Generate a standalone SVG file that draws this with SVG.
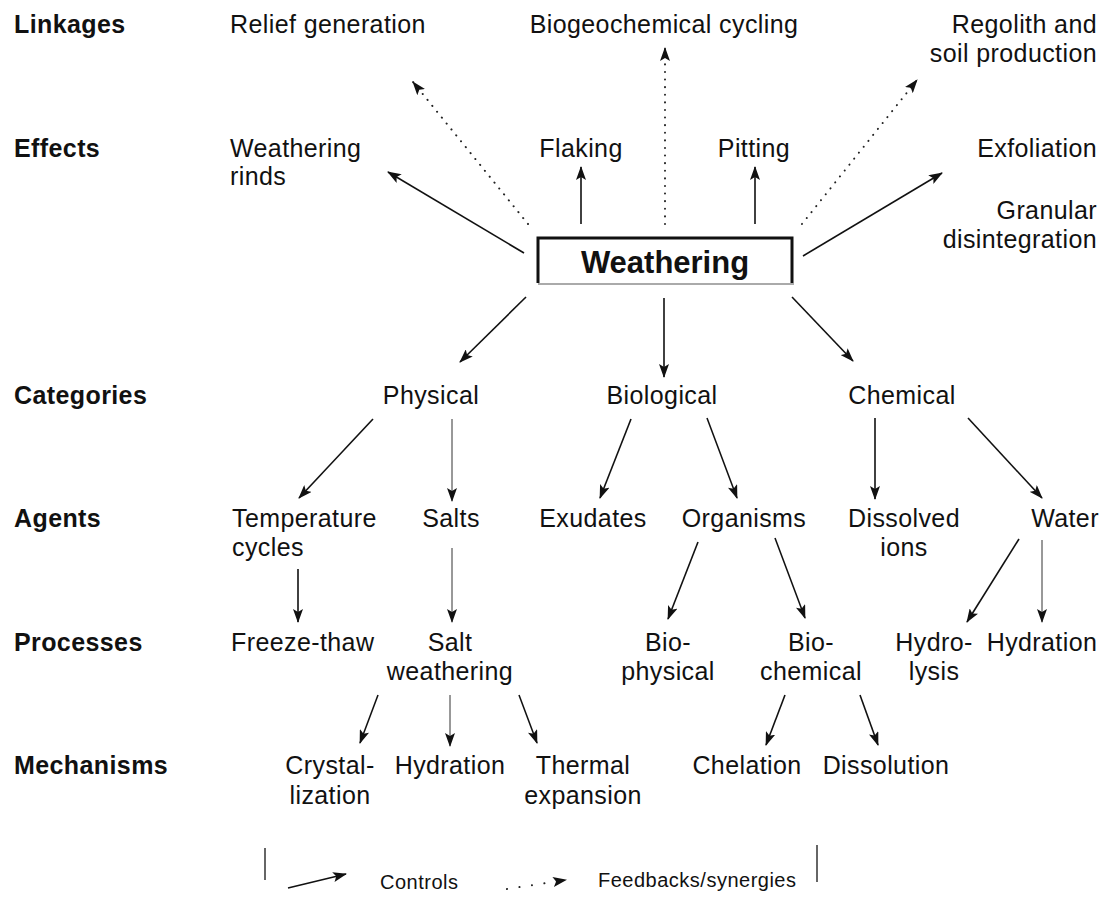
<svg xmlns="http://www.w3.org/2000/svg" width="1107" height="906" viewBox="0 0 1107 906">
<style>
.t{font-family:"Liberation Sans",Arial,sans-serif;font-size:25px;letter-spacing:0.4px;fill:#111}
.h{font-weight:bold}
.c{text-anchor:middle}
.e{text-anchor:end}
.lg{font-size:20px;letter-spacing:0.5px}
.s{stroke:#111;stroke-width:1.6;fill:none;marker-end:url(#ah)}
.thin{stroke:#333;stroke-width:1}
.d{stroke:#222;stroke-width:2;stroke-dasharray:0.1 7.5;stroke-linecap:round;fill:none;marker-end:url(#ah)}
.ld{stroke-dasharray:0.1 12.5}
</style>
<defs>
<marker id="ah" viewBox="0 0 14 10" refX="13" refY="5" markerWidth="14" markerHeight="10" orient="auto" markerUnits="userSpaceOnUse"><path d="M0,0 L14,5 L0,10 L3,5 Z" fill="#111"/></marker>
</defs>
<rect width="1107" height="906" fill="#fff"/>
<g id="row-labels">
<text class="t h" x="14" y="33">Linkages</text>
<text class="t h" x="14" y="157">Effects</text>
<text class="t h" x="14" y="404">Categories</text>
<text class="t h" x="14" y="527">Agents</text>
<text class="t h" x="14" y="651">Processes</text>
<text class="t h" x="14" y="774">Mechanisms</text>
</g>
<g id="weathering">
<rect x="538" y="238" width="254" height="45" fill="#fff"/>
<line x1="538" y1="284" x2="794" y2="284" stroke="#aaa" stroke-width="2"/>
<path d="M538,283 V238 H792 V283" fill="none" stroke="#111" stroke-width="3"/>
<text class="t h c" x="665" y="273" style="font-size:31px;letter-spacing:0">Weathering</text>
</g>
<g id="relief-generation"><text class="t" x="230" y="33">Relief generation</text></g>
<g id="biogeochemical-cycling"><text class="t c" x="664" y="33">Biogeochemical cycling</text></g>
<g id="regolith"><text class="t e" x="1097" y="33">Regolith and</text><text class="t e" x="1097" y="62">soil production</text></g>
<g id="weathering-rinds"><text class="t" x="230" y="157">Weathering</text><text class="t" x="230" y="185">rinds</text></g>
<g id="flaking"><text class="t c" x="581" y="157">Flaking</text></g>
<g id="pitting"><text class="t c" x="754" y="157">Pitting</text></g>
<g id="exfoliation"><text class="t e" x="1097" y="157">Exfoliation</text></g>
<g id="granular"><text class="t e" x="1097" y="219">Granular</text><text class="t e" x="1097" y="248">disintegration</text></g>
<g id="physical"><text class="t c" x="431" y="404">Physical</text></g>
<g id="biological"><text class="t c" x="662" y="404">Biological</text></g>
<g id="chemical"><text class="t c" x="902" y="404">Chemical</text></g>
<g id="temperature-cycles"><text class="t" x="232" y="527">Temperature</text><text class="t" x="232" y="556">cycles</text></g>
<g id="salts"><text class="t c" x="451" y="527">Salts</text></g>
<g id="exudates"><text class="t c" x="593" y="527">Exudates</text></g>
<g id="organisms"><text class="t c" x="744" y="527">Organisms</text></g>
<g id="dissolved-ions"><text class="t c" x="904" y="527">Dissolved</text><text class="t c" x="904" y="556">ions</text></g>
<g id="water"><text class="t c" x="1065" y="527">Water</text></g>
<g id="freeze-thaw"><text class="t" x="231" y="651">Freeze-thaw</text></g>
<g id="salt-weathering"><text class="t c" x="450" y="651">Salt</text><text class="t c" x="450" y="680">weathering</text></g>
<g id="bio-physical"><text class="t c" x="668" y="651">Bio-</text><text class="t c" x="668" y="680">physical</text></g>
<g id="bio-chemical"><text class="t c" x="811" y="651">Bio-</text><text class="t c" x="811" y="680">chemical</text></g>
<g id="hydrolysis"><text class="t c" x="934" y="651">Hydro-</text><text class="t c" x="934" y="680">lysis</text></g>
<g id="hydration-process"><text class="t c" x="1042" y="651">Hydration</text></g>
<g id="crystallization"><text class="t c" x="330" y="774">Crystal-</text><text class="t c" x="330" y="804">lization</text></g>
<g id="hydration-mechanism"><text class="t c" x="450" y="774">Hydration</text></g>
<g id="thermal-expansion"><text class="t c" x="583" y="774">Thermal</text><text class="t c" x="583" y="804">expansion</text></g>
<g id="chelation"><text class="t c" x="747" y="774">Chelation</text></g>
<g id="dissolution"><text class="t c" x="886" y="774">Dissolution</text></g>
<g id="connectors">
<line class="s" x1="524" y1="253" x2="388" y2="172"/>
<line class="d" x1="528" y1="224" x2="413" y2="82"/>
<line class="s" x1="581" y1="224" x2="581" y2="167"/>
<line class="d" x1="665" y1="224" x2="665" y2="48"/>
<line class="s" x1="755" y1="224" x2="755" y2="167"/>
<line class="d" x1="802" y1="224" x2="917" y2="80"/>
<line class="s" x1="803" y1="256" x2="942" y2="173"/>
<line class="s" x1="526" y1="297" x2="460" y2="362"/>
<line class="s" x1="664" y1="298" x2="664" y2="377"/>
<line class="s" x1="792" y1="297" x2="853" y2="361"/>
<line class="s" x1="373" y1="419" x2="299" y2="498"/>
<line class="s thin" x1="452" y1="419" x2="452" y2="501"/>
<line class="s" x1="631" y1="419" x2="600" y2="498"/>
<line class="s" x1="707" y1="418" x2="737" y2="498"/>
<line class="s" x1="875" y1="418" x2="875" y2="499"/>
<line class="s" x1="968" y1="418" x2="1042" y2="498"/>
<line class="s" x1="298" y1="569" x2="298" y2="622"/>
<line class="s thin" x1="452" y1="548" x2="452" y2="622"/>
<line class="s" x1="698" y1="542" x2="668" y2="619"/>
<line class="s" x1="775" y1="538" x2="805" y2="618"/>
<line class="s" x1="1019" y1="539" x2="967" y2="622"/>
<line class="s thin" x1="1042" y1="540" x2="1042" y2="622"/>
<line class="s" x1="378" y1="695" x2="360" y2="743"/>
<line class="s thin" x1="450" y1="695" x2="450" y2="746"/>
<line class="s" x1="519" y1="695" x2="537" y2="743"/>
<line class="s" x1="785" y1="695" x2="766" y2="745"/>
<line class="s" x1="860" y1="695" x2="878" y2="745"/>
</g>
<g id="legend">
<line x1="265" y1="848" x2="265" y2="880" stroke="#333" stroke-width="1.5"/>
<line x1="817" y1="845" x2="817" y2="882" stroke="#333" stroke-width="1.5"/>
<line class="s" x1="288" y1="888" x2="346" y2="874"/>
<text class="t lg" x="380" y="889">Controls</text>
<line class="d ld" x1="507" y1="889" x2="566" y2="880"/>
<text class="t lg" x="598" y="887">Feedbacks/synergies</text>
</g>
</svg>
